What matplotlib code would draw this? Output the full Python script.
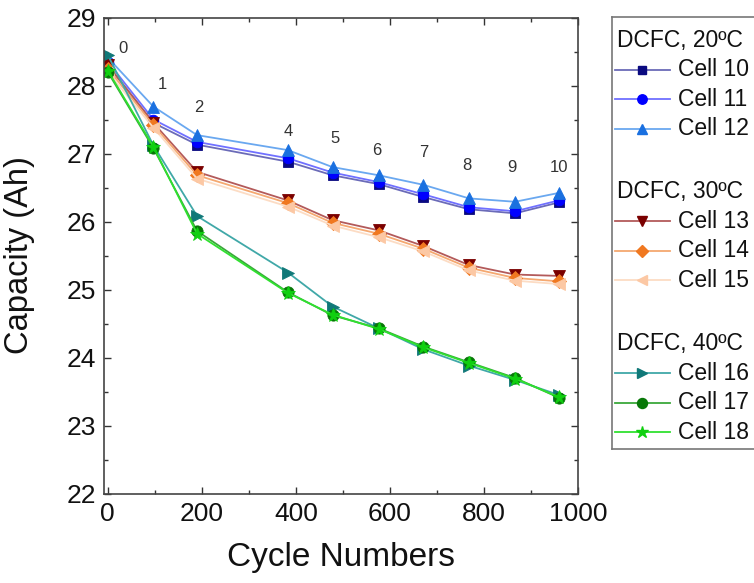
import matplotlib
matplotlib.use("Agg")
import matplotlib.pyplot as plt
from matplotlib.lines import Line2D
from matplotlib.ticker import MultipleLocator

plt.rcParams['font.family'] = ['Liberation Sans', 'DejaVu Sans']

# ---- data ----
cycles = [0, 97, 190, 383, 478, 576, 671, 768, 866, 959]
cycle_labels = ["0", "1", "2", "4", "5", "6", "7", "8", "9", "10"]

cell10 = [28.30, 27.45, 27.13, 26.88, 26.68, 26.55, 26.36, 26.18, 26.12, 26.28]
cell11 = [28.35, 27.50, 27.17, 26.93, 26.72, 26.58, 26.40, 26.21, 26.15, 26.31]
cell12 = [28.41, 27.69, 27.27, 27.05, 26.80, 26.68, 26.54, 26.34, 26.29, 26.42]
cell13 = [28.30, 27.45, 26.73, 26.31, 26.02, 25.87, 25.64, 25.36, 25.22, 25.20]
cell14 = [28.25, 27.42, 26.68, 26.27, 25.98, 25.82, 25.60, 25.32, 25.17, 25.12]
cell15 = [28.20, 27.38, 26.63, 26.22, 25.94, 25.77, 25.56, 25.28, 25.13, 25.08]
cell16 = [28.45, 27.12, 26.08, 25.25, 24.75, 24.43, 24.12, 23.88, 23.67, 23.45]
cell17 = [28.20, 27.08, 25.86, 24.96, 24.62, 24.43, 24.16, 23.93, 23.70, 23.41]
cell18 = [28.22, 27.10, 25.82, 24.95, 24.63, 24.42, 24.15, 23.92, 23.69, 23.42]

series_names = ["Cell 10", "Cell 11", "Cell 12", "Cell 13", "Cell 14", "Cell 15",
                "Cell 16", "Cell 17", "Cell 18"]
series_values = [cell10, cell11, cell12, cell13, cell14, cell15, cell16, cell17, cell18]
group_titles = ["DCFC, 20ºC", "DCFC, 30ºC", "DCFC, 40ºC"]

# ---- styles ----
line_colors = ['#6b6bb8', '#7070ff', '#6aa8f0', '#b35a5a', '#f5a870', '#fcdcc4',
               '#40a8a8', '#3aa83a', '#30e030']
marker_colors = ['#0a0a80', '#0000ff', '#1a70e0', '#7a0000', '#f07820', '#fcc8a4',
                 '#107878', '#087808', '#10d010']
markers = ['s', 'o', '^', 'v', 'D', '<', '>', 'o', '*']
msizes = [8, 8.5, 9.5, 9.5, 7.5, 9.5, 9.5, 9, 11]

# label offsets (dx, dy) relative to topmost point at each cycle
label_offsets = [(32, 0.10), (19, 0.32), (3, 0.41), (0, 0.27), (5, 0.42), (-4, 0.37),
                 (2, 0.47), (-4, 0.48), (-7, 0.51), (0, 0.38)]

W, H = 754, 583
fig = plt.figure(figsize=(W / 100, H / 100), dpi=100)
ax = fig.add_axes([104 / W, (H - 493.5) / H, (578 - 104) / W, (493.5 - 17.5) / H])

for vals, lc, mc, mk, ms in zip(series_values, line_colors, marker_colors, markers, msizes):
    ax.plot(cycles, vals, color=lc, lw=1.3, marker=mk, ms=ms * 0.9,
            markerfacecolor=mc, markeredgecolor=mc, markeredgewidth=0.6)

tops = [max(v[i] for v in series_values) for i in range(len(cycles))]
for i, lab in enumerate(cycle_labels):
    dx, dy = label_offsets[i]
    ax.text(cycles[i] + dx, tops[i] + dy, lab, ha='center', va='center',
            fontsize=12, color='#333333')

ax.set_xlim(-8, 1000)
ax.set_ylim(22, 29)
ax.xaxis.set_major_locator(MultipleLocator(200))
ax.xaxis.set_minor_locator(MultipleLocator(100))
ax.yaxis.set_major_locator(MultipleLocator(1))
ax.yaxis.set_minor_locator(MultipleLocator(0.5))
ax.tick_params(which='both', direction='in', top=True, right=True,
               colors='#333333', labelcolor='#111111', width=1)
ax.tick_params(which='major', length=5, labelsize=19, pad=6)
ax.tick_params(which='minor', length=3)
for s in ax.spines.values():
    s.set_color('#444444')
    s.set_linewidth(1.2)
ax.set_xlabel("Cycle Numbers", fontsize=24, color='#111111')
ax.set_ylabel("Capacity (Ah)", fontsize=23.5, color='#111111')
ax.xaxis.set_label_coords(0.5, -0.102)
ax.yaxis.set_label_coords((35 - 104) / 474, 0.5)

# ---- legend box (right side, extends past figure edge) ----
lx0, ly0, lx1, ly1 = 612, 17, 790, 449
lax = fig.add_axes([lx0 / W, (H - ly1) / H, (lx1 - lx0) / W, (ly1 - ly0) / H])
lax.set_xlim(lx0, lx1)
lax.set_ylim(ly1, ly0)
lax.set_xticks([])
lax.set_yticks([])
for s in lax.spines.values():
    s.set_color('#777777')
    s.set_linewidth(1.2)

row = 29.5
y = 40
k = 0
for g, title in enumerate(group_titles):
    lax.text(617, y, title, ha='left', va='center', fontsize=16.5, color='#111111')
    y += row
    for j in range(3):
        lc, mc, mk, ms = line_colors[k], marker_colors[k], markers[k], msizes[k]
        lax.add_line(Line2D([615, 670], [y, y], color=lc, lw=1.3))
        lax.add_line(Line2D([642], [y], marker=mk, ms=ms * 0.8, color=mc,
                            markerfacecolor=mc, markeredgecolor=mc, lw=0))
        lax.text(678, y, series_names[k], ha='left', va='center', fontsize=16.5,
                 color='#111111')
        y += row
        k += 1
    y += row * 1.15

fig.savefig("out.png", dpi=100)
